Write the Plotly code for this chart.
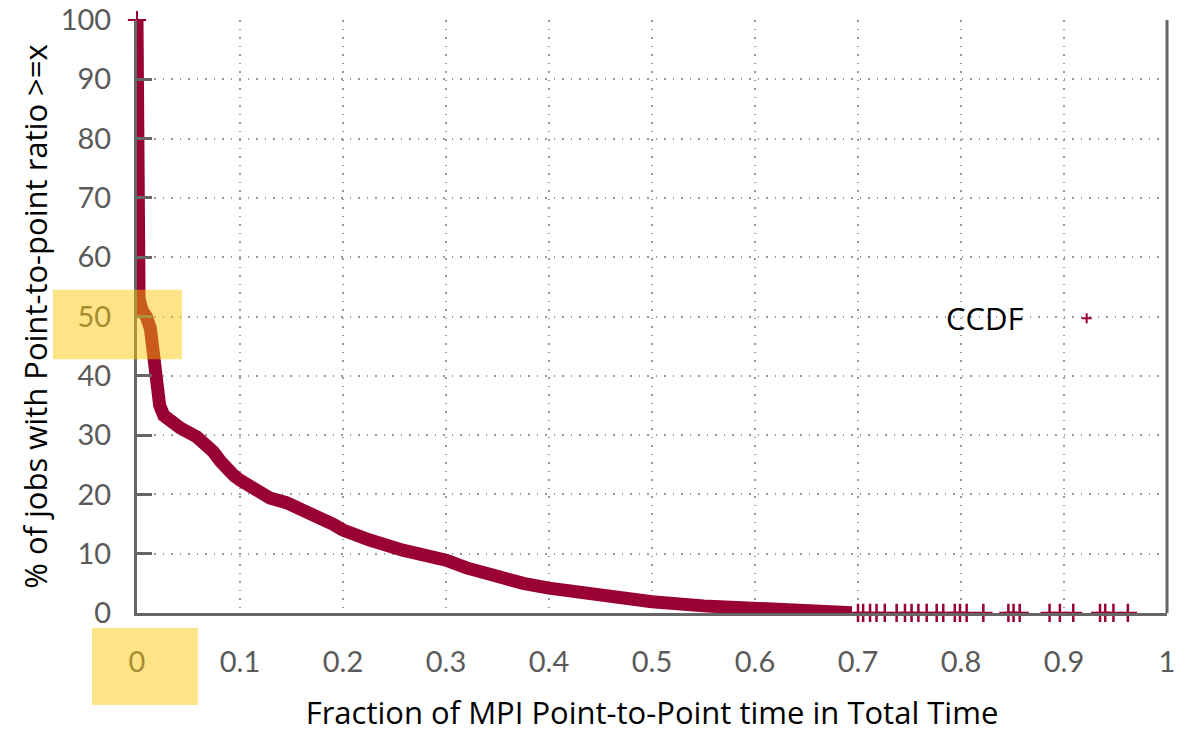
import plotly.graph_objects as go

# CCDF of the MPI point-to-point share of total run time
frac_curve = [0, 0, 0.002, 0.005, 0.009, 0.013, 0.016, 0.019, 0.022, 0.026, 0.032,
              0.042, 0.058, 0.066, 0.074, 0.081, 0.087, 0.094, 0.1, 0.115, 0.129,
              0.145, 0.158, 0.178, 0.19, 0.2, 0.213, 0.226, 0.258, 0.281, 0.3, 0.32,
              0.35, 0.375, 0.4, 0.45, 0.5, 0.55, 0.6, 0.65, 0.694]
pct_curve = [100, 56, 53, 51, 50, 48, 43.5, 39, 35, 33.3, 32.3,
             31.2, 29.7, 28.6, 27.2, 25.6, 24.1, 23.2, 22.4, 20.7, 19.4,
             18.6, 17.7, 16.2, 15.0, 14.0, 13.0, 12.3, 10.6, 9.8, 8.9, 7.6,
             5.9, 5.0, 4.2, 2.9, 1.9, 1.2, 0.7, 0.3, 0.05]

# sparse tail of individual jobs
frac_tail = [0.700, 0.705, 0.7117, 0.718, 0.726, 0.7375, 0.7456, 0.752, 0.7586,
             0.7667, 0.7764, 0.7828, 0.794, 0.799, 0.8055, 0.8217, 0.846, 0.851,
             0.857, 0.886, 0.896, 0.909, 0.935, 0.94, 0.948, 0.962]
pct_tail = [0.02] * len(frac_tail)

x_ticks = [0, 0.1, 0.2, 0.3, 0.4, 0.5, 0.6, 0.7, 0.8, 0.9, 1]
x_tick_text = ["0", "0.1", "0.2", "0.3", "0.4", "0.5", "0.6", "0.7", "0.8", "0.9", "1"]
y_ticks = [0, 10, 20, 30, 40, 50, 60, 70, 80, 90, 100]

LINE = "#990033"
AXIS = "#666666"
TICKFONT = dict(family="Lato, 'Open Sans', sans-serif", size=29, color="#5a5a5a")
TITLEFONT = dict(family="'Open Sans', Lato, sans-serif", size=31, color="#000000")
HILITE = "rgba(255,196,0,0.47)"

fig = go.Figure()
fig.add_trace(go.Scatter(
    x=frac_curve, y=pct_curve, mode="lines",
    line=dict(color=LINE, width=13), showlegend=False, cliponaxis=False))
fig.add_trace(go.Scatter(
    x=frac_tail, y=pct_tail, mode="markers",
    marker=dict(symbol="cross-thin", size=13, line=dict(color=LINE, width=2.5)),
    showlegend=False, cliponaxis=False))
# marker at the top end of the curve
fig.add_trace(go.Scatter(
    x=frac_curve[:1], y=pct_curve[:1], mode="markers",
    marker=dict(symbol="cross-thin", size=13, line=dict(color=LINE, width=2)),
    showlegend=False, cliponaxis=False))

grid = dict(showgrid=True, gridcolor="#999999", gridwidth=1.5, griddash="1.5px,7px")

fig.update_xaxes(
    range=[0, 1], tickvals=x_ticks, ticktext=x_tick_text, tickfont=TICKFONT,
    ticks="", ticklabelstandoff=21, showline=True, linecolor=AXIS, linewidth=3,
    zeroline=False, automargin=False,
    title=dict(text="Fraction of MPI Point-to-Point time in Total Time",
               font=TITLEFONT, standoff=26),
    **grid)
fig.update_yaxes(
    range=[0, 100], tickvals=y_ticks, tickfont=TICKFONT,
    ticks="inside", ticklen=15, tickwidth=3, tickcolor=AXIS, ticklabelstandoff=17,
    showline=True, linecolor=AXIS, linewidth=3, zeroline=False, automargin=False,
    title=dict(text="% of jobs with Point-to-point ratio >=x",
               font=TITLEFONT, standoff=4),
    **grid)

shapes = [
    # right border
    dict(type="line", xref="paper", yref="paper", x0=1, x1=1, y0=0, y1=1,
         line=dict(color=AXIS, width=3)),
    # legend key
    dict(type="line", xref="paper", yref="paper", x0=0.917, x1=0.927,
         y0=0.497, y1=0.497, line=dict(color=LINE, width=2)),
    dict(type="line", xref="paper", yref="paper", x0=0.922, x1=0.922,
         y0=0.4885, y1=0.5055, line=dict(color=LINE, width=2)),
    # highlight boxes
    dict(type="rect", xref="paper", yref="paper", x0=-0.0816, x1=0.0437,
         y0=0.428, y1=0.545, fillcolor=HILITE, line=dict(width=0), layer="above"),
    dict(type="rect", xref="paper", yref="paper", x0=-0.0437, x1=0.0592,
         y0=-0.155, y1=-0.0253, fillcolor=HILITE, line=dict(width=0), layer="above"),
]

fig.update_layout(
    width=1188, height=736,
    margin=dict(l=137, r=21, t=20, b=123),
    plot_bgcolor="white", paper_bgcolor="white",
    shapes=shapes,
    annotations=[dict(text="CCDF", xref="paper", yref="paper", x=0.863, y=0.497,
                      xanchor="right", yanchor="middle", showarrow=False,
                      font=dict(family="'Open Sans', Lato, sans-serif", size=31,
                                color="#000000"))],
)

fig.write_html("out.html")
